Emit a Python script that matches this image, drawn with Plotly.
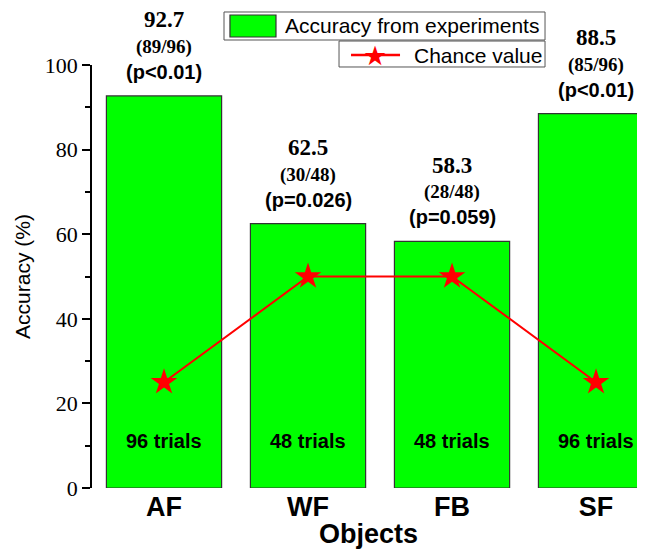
import plotly.graph_objects as go

objects = ["AF", "WF", "FB", "SF"]
accuracy = [92.7, 62.5, 58.3, 88.5]
fractions = ["(89/96)", "(30/48)", "(28/48)", "(85/96)"]
p_values = ["(p<0.01)", "(p=0.026)", "(p=0.059)", "(p<0.01)"]
trials = ["96 trials", "48 trials", "48 trials", "96 trials"]
chance = [25, 50, 50, 25]

bar_name = "Accuracy from experiments"
line_name = "Chance value"
green = "#00ff00"

fig = go.Figure()
fig.add_trace(go.Bar(
    x=objects, y=accuracy, name=bar_name, width=0.8,
    marker=dict(color=green, line=dict(color="#333333", width=1.2)),
))
fig.add_trace(go.Scatter(
    x=objects, y=chance, name=line_name, mode="lines+markers",
    line=dict(color="red", width=2),
    marker=dict(symbol="star", size=20, color="red"),
))

serif = "Liberation Serif"
sans = "Liberation Sans"
for obj, acc, fr, pv, tr in zip(objects, accuracy, fractions, p_values, trials):
    fig.add_annotation(x=obj, y=acc, text="<b>%.1f</b>" % acc, showarrow=False,
                       yshift=76, font=dict(family=serif, size=23, color="black"))
    fig.add_annotation(x=obj, y=acc, text="<b>" + fr + "</b>", showarrow=False,
                       yshift=49, font=dict(family=serif, size=19, color="black"))
    fig.add_annotation(x=obj, y=acc, text="<b>" + pv + "</b>", showarrow=False,
                       yshift=24, font=dict(family=sans, size=20, color="black"))
    fig.add_annotation(x=obj, y=11, text="<b>" + tr + "</b>", showarrow=False,
                       font=dict(family=sans, size=20, color="black"))

# legend drawn by hand: two separate boxes, as in the original figure
box = dict(type="rect", xref="paper", yref="paper", fillcolor="white",
           line=dict(color="#555555", width=1))
fig.add_shape(x0=0.2387, x1=0.8192, y0=1.0591, y1=1.1253, **box)
fig.add_shape(type="rect", xref="paper", yref="paper",
              x0=0.2495, x1=0.3327, y0=1.0662, y1=1.1182,
              fillcolor=green, line=dict(color="#333333", width=1.2))
fig.add_annotation(xref="paper", yref="paper", x=0.3454, y=1.0922,
                   xanchor="left", yanchor="middle", text=bar_name,
                   showarrow=False, font=dict(family=sans, size=21, color="black"))
fig.add_shape(x0=0.4467, x1=0.8192, y0=0.9953, y1=1.0567, **box)
fig.add_shape(type="line", xref="paper", yref="paper",
              x0=0.4684, x1=0.5570, y0=1.0236, y1=1.0236,
              line=dict(color="red", width=2.5))
fig.add_annotation(xref="paper", yref="paper", x=0.5118, y=1.0236,
                   xanchor="center", yanchor="middle", text="★", showarrow=False,
                   font=dict(family="DejaVu Sans", size=27, color="red"))
fig.add_annotation(xref="paper", yref="paper", x=0.5787, y=1.0236,
                   xanchor="left", yanchor="middle", text=line_name,
                   showarrow=False, font=dict(family=sans, size=21, color="black"))

# the page body has an 8px margin, so the figure is a bit smaller than the window
fig.update_layout(
    width=637, height=541,
    margin=dict(l=84, r=0, t=57, b=61),
    plot_bgcolor="white", paper_bgcolor="white",
    showlegend=False,
    xaxis=dict(range=[-0.5, 3.34], showline=False, ticks="", automargin=False,
               tickfont=dict(family=sans, size=27, color="black"),
               tickprefix="<b>", ticksuffix="</b>",
               title=dict(text="<b>Objects</b>", standoff=0,
                          font=dict(family=sans, size=27, color="black"))),
    yaxis=dict(range=[0, 100], showline=True, linecolor="black", linewidth=1.5,
               showgrid=False, zeroline=False, automargin=False,
               ticks="outside", ticklen=8, tickwidth=1.5, tickcolor="black",
               tickvals=[0, 20, 40, 60, 80, 100],
               minor=dict(tickvals=[10, 30, 50, 70, 90], ticks="outside",
                          ticklen=5, tickwidth=1.5, tickcolor="black"),
               tickfont=dict(family=serif, size=22, color="black"),
               title=dict(text="Accuracy (%)", standoff=8,
                          font=dict(family=sans, size=21, color="black"))),
)

fig.write_html("out.html")
